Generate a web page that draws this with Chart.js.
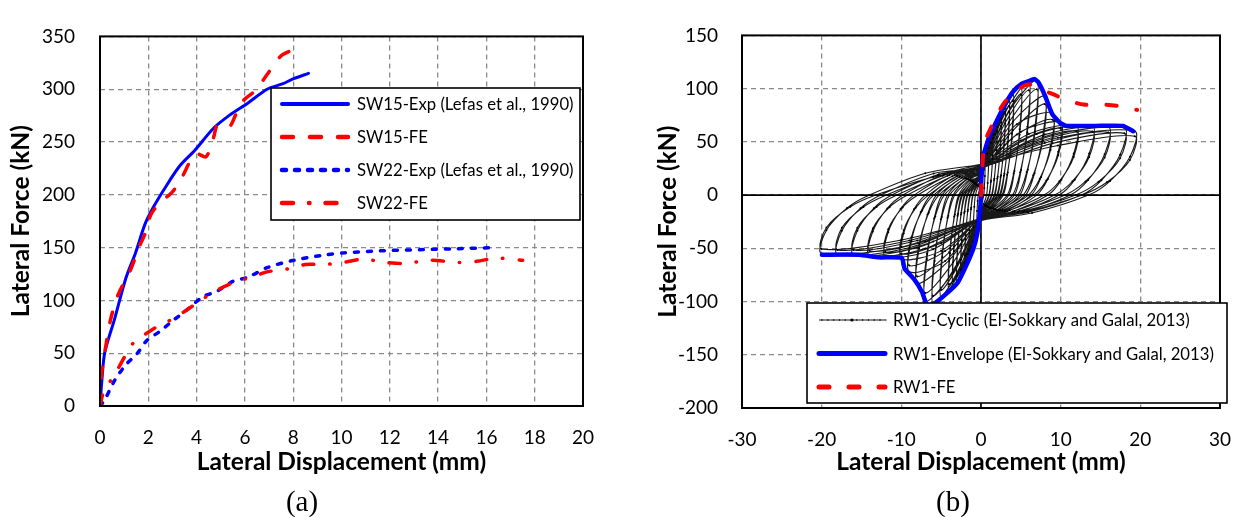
<!DOCTYPE html>
<html><head><meta charset="utf-8">
<script src="https://cdn.jsdelivr.net/npm/chart.js@4.4.1/dist/chart.umd.min.js"></script>
<style>
html,body{margin:0;padding:0;background:#fff;}
#wrap{position:relative;width:1251px;height:517px;overflow:hidden;background:#fff;}
canvas{position:absolute;top:0;}
#c1{left:0;} #c2{left:620px;}
.cap{position:absolute;font-family:'Liberation Serif','DejaVu Serif',serif;font-size:29px;color:#000;transform:translate(-50%,-50%);white-space:nowrap;line-height:1;}
</style></head><body>
<div id="wrap">
<canvas id="c1" width="620" height="517"></canvas>
<canvas id="c2" width="631" height="517"></canvas>
<div class="cap" style="left:302px;top:501px">(a)</div>
<div class="cap" style="left:953px;top:501px">(b)</div>
</div>
<script>
// ---------- (a) data: [displacement mm, force kN] ----------
const sw15Exp = [[0,0],[0.08,25],[0.2,51],[0.6,82],[1.07,121],[1.47,145],[1.86,172],[2.18,187],[2.65,205],[3.29,227],[3.92,242],[4.7,263],[5.34,275],[6.13,287],[6.92,300],[7.55,305],[8.02,310],[8.63,315]];
const sw15Fe = [[0,0],[0.05,27],[0.2,51],[0.44,82],[0.76,106],[1.23,127],[1.63,151],[1.86,163],[2.1,181],[2.5,193],[2.97,202],[3.36,215],[3.76,233],[4.0,239],[4.39,236],[4.7,254],[4.87,266],[5.34,264],[5.66,278],[5.97,290],[6.45,299],[6.92,314],[7.47,331],[7.95,337]];
const sw22Exp = [[0,0],[0.2,6],[0.6,24],[1.07,39],[1.55,50],[1.94,62],[2.5,71],[2.97,80],[3.6,91],[4.23,103],[4.87,109],[5.5,118],[6.13,122],[6.92,131],[8.02,138],[9.29,143],[10.1,145],[11.66,147],[13.24,148],[14.82,149],[16.32,150]];
const sw22Fe = [[0,0],[0.13,12],[0.44,24],[0.76,36],[1.39,60],[1.94,69],[2.5,77],[2.97,82],[3.6,91],[4.23,101],[4.87,110],[5.66,118],[6.29,122],[6.92,127],[8.1,131],[8.5,134],[9.29,134],[10.1,136],[10.9,139],[11.8,136],[12.6,135],[13.7,138],[14.8,136],[15.6,137],[16.4,140],[17.5,138]];
const leftLabels = ['SW15-Exp (Lefas et al., 1990)','SW15-FE','SW22-Exp (Lefas et al., 1990)','SW22-FE'];
const leftXTicks = [0,2,4,6,8,10,12,14,16,18,20];
const leftYTicks = [0,50,100,150,200,250,300,350];

// ---------- (b) data ----------
const rw1Cyclic = [
[0,3],[0.25,20.6],[0.5,30],[0.49,18],[0.42,6.6],[0.35,0],[0.17,-5.6],[0,-8],[-0.25,-19.1],[-0.5,-25],[-0.49,-15],[-0.42,-5.5],[-0.35,0],[-0.17,5.6],
[0,8],[0.5,36.6],[1,52],[0.97,31.2],[0.84,11.4],[0.7,0],[0.33,-8.4],[0,-12],[-0.5,-36.7],[-1,-50],[-0.97,-30],[-0.84,-11],[-0.7,0],[-0.33,8.4],
[0,12],[0.75,44.5],[1.5,62],[1.46,37.2],[1.26,13.6],[1.05,0],[0.5,-9.8],[0,-14],[-0.75,-43.9],[-1.5,-60],[-1.46,-36],[-1.26,-13.2],[-1.05,0],[-0.5,9.8],
[0,12],[0.75,39],[1.5,57],[1.46,34.1],[1.23,12.4],[0.99,0],[0.45,-9.1],[0,-13],[-0.75,-38],[-1.5,-55.2],[-1.46,-33],[-1.23,-12],[-0.99,0],[-0.45,9.1],
[0,14],[1,50.4],[2,70],[1.94,42],[1.68,15.4],[1.4,0],[0.66,-10.5],[0,-15],[-1,-50.1],[-2,-69],[-1.94,-41.4],[-1.68,-15.2],[-1.4,0],[-0.66,11.2],
[0,14],[1,44.2],[2,64.4],[1.94,38.5],[1.64,14],[1.32,0],[0.6,-9.8],[0,-14],[-1,-43.7],[-2,-63.5],[-1.94,-38],[-1.64,-13.8],[-1.32,0],[-0.6,10.4],
[0,16],[1.25,56.3],[2.5,78],[2.43,46.8],[2.1,17.2],[1.75,0],[0.83,-11.2],[0,-16],[-1.25,-55.7],[-2.5,-77],[-2.43,-46.2],[-2.1,-16.9],[-1.75,0],[-0.83,11.9],
[0,15],[1.25,49.1],[2.5,71.8],[2.43,42.9],[2.05,15.6],[1.65,0],[0.75,-10.4],[0,-15],[-1.25,-48.5],[-2.5,-70.8],[-2.43,-42.4],[-2.05,-15.4],[-1.65,0],[-0.75,11],
[0,17],[1.5,61.2],[3,85],[2.91,51],[2.52,18.7],[2.1,0],[1,-11.9],[0,-17],[-1.5,-59.9],[-3,-83],[-2.91,-49.8],[-2.52,-18.3],[-2.1,0],[-1,12.6],
[0,16],[1.5,53.3],[3,78.2],[2.91,46.8],[2.46,17],[1.98,0],[0.9,-11],[0,-16],[-1.5,-52.2],[-3,-76.4],[-2.91,-45.7],[-2.46,-16.6],[-1.98,0],[-0.9,11.7],
[0,18],[1.75,65.5],[3.5,91],[3.4,54.6],[2.94,20],[2.45,0],[1.16,-12.6],[0,-18],[-1.75,-63.5],[-3.5,-88],[-3.4,-52.8],[-2.94,-19.4],[-2.45,0],[-1.16,13.3],
[0,17],[1.75,57],[3.5,83.7],[3.4,50],[2.87,18.2],[2.31,0],[1.05,-11.7],[0,-17],[-1.75,-55.4],[-3.5,-81],[-3.4,-48.4],[-2.87,-17.6],[-2.31,0],[-1.05,12.4],
[0,19],[2,69],[4,96],[3.88,57.6],[3.36,21.1],[2.8,0],[1.32,-12.6],[0,-18],[-2,-65.5],[-4,-91],[-3.88,-54.6],[-3.36,-20],[-2.8,0],[-1.32,14],
[0,18],[2,60.2],[4,88.3],[3.88,52.8],[3.28,19.2],[2.64,0],[1.2,-11.7],[0,-17],[-2,-57],[-4,-83.7],[-3.88,-50],[-3.28,-18.2],[-2.64,0],[-1.2,13],
[0,20],[2.5,74],[5,103],[4.85,61.8],[4.2,22.7],[3.5,0],[1.65,-13.3],[0,-19],[-2.5,-69.7],[-5,-97],[-4.85,-58.2],[-4.2,-21.3],[-3.5,0],[-1.65,15.4],
[0,20],[2.5,64.9],[5,94.8],[4.85,56.7],[4.1,20.6],[3.3,0],[1.5,-12.4],[0,-18],[-2.5,-60.7],[-5,-89.2],[-4.85,-53.4],[-4.1,-19.4],[-3.3,0],[-1.5,14.3],
[0,22],[3,77.3],[6,107],[5.82,64.2],[5.04,23.5],[4.2,0],[1.98,-14],[0,-20],[-3,-74],[-6,-103],[-5.82,-61.8],[-5.04,-22.7],[-4.2,0],[-1.98,16.1],
[0,21],[3,67.4],[6,98.4],[5.82,58.9],[4.92,21.4],[3.96,0],[1.8,-13],[0,-19],[-3,-64.5],[-6,-94.8],[-5.82,-56.7],[-4.92,-20.6],[-3.96,0],[-1.8,15],
[0,23],[3.5,78.3],[7,108],[6.79,64.8],[5.88,23.8],[4.9,0],[2.31,-14.7],[0,-21],[-3.5,-72.4],[-7,-100],[-6.79,-60],[-5.88,-22],[-4.9,0],[-2.31,16.8],
[0,22],[3.5,68.4],[7,99.4],[6.79,59.4],[5.74,21.6],[4.62,0],[2.1,-13.7],[0,-20],[-3.5,-63.2],[-7,-92],[-6.79,-55],[-5.74,-20],[-4.62,0],[-2.1,15.6],
[0,24],[4,68.9],[8,93],[7.76,55.8],[6.72,20.5],[5.6,0],[2.64,-14.7],[0,-21],[-4,-61.3],[-8,-83],[-7.76,-49.8],[-6.72,-18.3],[-5.6,0],[-2.64,17.5],
[0,23],[4,60.6],[8,85.6],[7.76,51.2],[6.56,18.6],[5.28,0],[2.4,-13.7],[0,-20],[-4,-53.8],[-8,-76.4],[-7.76,-45.7],[-6.56,-16.6],[-5.28,0],[-2.4,16.3],
[0,25],[4.5,66.6],[9,77],[8.73,46.2],[7.56,16.9],[6.3,0],[2.97,-15.4],[0,-22],[-4.5,-62],[-9,-72],[-8.73,-43.2],[-7.56,-15.8],[-6.3,0],[-2.97,18.2],
[0,24],[4.5,56.8],[9,70.8],[8.73,42.4],[7.38,15.4],[5.94,0],[2.7,-14.3],[0,-21],[-4.5,-52.6],[-9,-66.2],[-8.73,-39.6],[-7.38,-14.4],[-5.94,0],[-2.7,16.9],
[0,26],[5,59.6],[10,68],[9.7,40.8],[8.4,15],[7,0],[3.3,-15.4],[0,-22],[-5,-52.4],[-10,-60],[-9.7,-36],[-8.4,-13.2],[-7,0],[-3.3,18.9],
[0,25],[5,51.3],[10,62.6],[9.7,37.4],[8.2,13.6],[6.6,0],[3,-14.3],[0,-21],[-5,-44.9],[-10,-55.2],[-9.7,-33],[-8.2,-12],[-6.6,0],[-3,17.6],
[0,27],[6,57.4],[12,65],[11.64,39],[10.08,14.3],[8.4,0],[3.96,-15.4],[0,-22],[-6,-50.8],[-12,-58],[-11.64,-34.8],[-10.08,-12.8],[-8.4,0],[-3.96,18.9],
[0,25],[6,49.4],[12,59.8],[11.64,35.8],[9.84,13],[7.92,0],[3.6,-14.3],[0,-21],[-6,-43.7],[-12,-53.4],[-11.64,-32],[-9.84,-11.6],[-7.92,0],[-3.6,17.6],
[0,27],[7,57.4],[14,65],[13.58,39],[11.76,14.3],[9.8,0],[4.62,-16.1],[0,-23],[-7,-50.2],[-14,-57],[-13.58,-34.2],[-11.76,-12.5],[-9.8,0],[-4.62,19.6],
[0,25],[7,49.4],[14,59.8],[13.58,35.8],[11.48,13],[9.24,0],[4.2,-15],[0,-22],[-7,-43.3],[-14,-52.4],[-13.58,-31.4],[-11.48,-11.4],[-9.24,0],[-4.2,18.2],
[0,28],[8,56.8],[16,64],[15.52,38.4],[13.44,14.1],[11.2,0],[5.28,-16.1],[0,-23],[-8,-49.4],[-16,-56],[-15.52,-33.6],[-13.44,-12.3],[-11.2,0],[-5.28,19.6],
[0,26],[8,49],[16,58.9],[15.52,35.2],[13.12,12.8],[10.56,0],[4.8,-15],[0,-22],[-8,-42.7],[-16,-51.5],[-15.52,-30.8],[-13.12,-11.2],[-10.56,0],[-4.8,18.2],
[0,28],[9,56],[18,63],[17.46,37.8],[15.12,13.9],[12.6,0],[5.94,-16.1],[0,-23],[-9,-49.4],[-18,-56],[-17.46,-33.6],[-15.12,-12.3],[-12.6,0],[-5.94,20.3],
[0,26],[9,48.6],[18,58],[17.46,34.6],[14.76,12.6],[11.88,0],[5.4,-15],[0,-22],[-9,-42.7],[-18,-51.5],[-17.46,-30.8],[-14.76,-11.2],[-11.88,0],[-5.4,18.9],
[0,29],[9.65,53.8],[19.3,60],[18.7,36],[16.2,13.2],[13.5,0],[6.4,-16.8],[0,-24],[-10,-48.8],[-20,-55],[-19.4,-33],[-16.8,-12.1],[-14,0],[-7,20.5],
[0,29],[9.65,46.6],[19.3,55.2],[18.7,33],[15.8,12],[12.7,0],[5.8,-15.6],[0,-23],[-10,-42.3],[-20,-50.6],[-19.4,-30.4],[-16.4,-11],[-13.2,0],[-6,17],[0,25]
];
const rw1Envelope = [[-19.97,-56],[-15.3,-56],[-12.8,-58.5],[-9.94,-59],[-9.6,-69],[-8.4,-79],[-7.4,-91],[-6.8,-103],[-6.1,-103],[-4.4,-93],[-2.9,-82],[-1.9,-67],[-0.94,-50],[-0.44,-35],[-0.2,-20],[0,-2],[0.05,16],[0.3,37],[1.04,55],[2.0,70],[3.0,85],[4.0,97],[5.0,104],[6.0,107],[6.7,109],[7.2,106],[8.0,94],[8.95,76],[9.9,68],[10.7,65],[14.4,65],[17.8,65],[19.1,60]];
const rw1Fe = [[0,0],[0.15,22],[0.45,49],[1.3,64],[2.5,82],[3.75,94],[5.0,101],[6.0,104],[7.0,101],[8.95,95],[10.9,89],[12.9,85],[15.4,85],[17.8,83],[19.6,80]];
const rightLabels = ['RW1-Cyclic (El-Sokkary and Galal, 2013)','RW1-Envelope (El-Sokkary and Galal, 2013)','RW1-FE'];
const rightXTicks = [-30,-20,-10,0,10,20,30];
const rightYTicks = [-200,-150,-100,-50,0,50,100,150];

const axisTitle = {x:'Lateral Displacement (mm)', y:'Lateral Force (kN)'};

// ---------- plugins ----------
const framePlugin = {
  id:'frame',
  afterDatasetsDraw(chart){
    const {ctx, chartArea:a} = chart;
    ctx.save(); ctx.lineWidth = 2; ctx.strokeStyle = '#000';
    ctx.strokeRect(a.left, a.top, a.right-a.left, a.bottom-a.top);
    ctx.restore();
  }
};
const zeroPlugin = {
  id:'zeroAxes',
  beforeDatasetsDraw(chart){
    const {ctx, chartArea:a, scales} = chart;
    const x0 = scales.x.getPixelForValue(0), y0 = scales.y.getPixelForValue(0);
    ctx.save(); ctx.lineWidth = 1.6; ctx.strokeStyle = '#000';
    ctx.beginPath(); ctx.moveTo(x0, a.top); ctx.lineTo(x0, a.bottom);
    ctx.moveTo(a.left, y0); ctx.lineTo(a.right, y0); ctx.stroke();
    ctx.restore();
  }
};
const boxLegend = {
  id:'boxLegend',
  afterDraw(chart, args, o){
    const ctx = chart.ctx;
    ctx.save();
    ctx.fillStyle = '#fff'; ctx.fillRect(o.x, o.y, o.w, o.h);
    ctx.lineWidth = 1.6; ctx.strokeStyle = '#000'; ctx.strokeRect(o.x, o.y, o.w, o.h);
    ctx.font = o.font; ctx.textBaseline = 'middle'; ctx.fillStyle = '#000';
    chart.data.datasets.forEach((ds, i) => {
      const cy = o.row0 + i*o.rowH;
      ctx.save();
      ctx.strokeStyle = ds.borderColor; ctx.lineWidth = ds.legendWidth || ds.borderWidth;
      ctx.setLineDash(ds.borderDash || []); ctx.lineCap = ds.borderCapStyle || 'butt';
      ctx.beginPath(); ctx.moveTo(o.sx0, cy); ctx.lineTo(o.sx1, cy); ctx.stroke();
      if (ds.legendDots) {
        ctx.fillStyle = '#000';
        for (let k = 0; k < 12; k++) { ctx.beginPath(); ctx.arc(o.sx0 + 3 + k*5.8, cy, 0.8, 0, Math.PI*2); ctx.fill(); }
        ctx.beginPath(); ctx.arc((o.sx0+o.sx1)/2, cy, 1.6, 0, Math.PI*2); ctx.fill();
      }
      ctx.restore();
      ctx.fillText(ds.label, o.tx, cy + 1);
    });
    ctx.restore();
  }
};

function scaleOpts(ticks, title, fit, tickPad, titlePad, isX){
  return {
    type:'linear', min:ticks[0], max:ticks[ticks.length-1],
    afterBuildTicks(s){ s.ticks = ticks.map(v => ({value:v})); },
    afterFit(s){ if (isX) s.height = fit; else s.width = fit; },
    grid:{color:'#8a8a8a', lineWidth:1.3, drawTicks:false},
    border:{display:false, dash:[5,4]},
    ticks:{color:'#000', font:{family:'Lato', size:19}, padding:tickPad, autoSkip:false, maxRotation:0},
    title:{display:true, text:title, color:'#000', font:{family:'Lato', size:24.5, weight:'bold'}, padding:titlePad}
  };
}

function build(){
  Chart.defaults.font.family = 'Lato';
  new Chart(document.getElementById('c1'), {
    type:'line',
    data:{datasets:[
      {label:leftLabels[0], data:sw15Exp, borderColor:'#0000ff', borderWidth:3, pointRadius:0, tension:0.3, order:4, borderCapStyle:'round', legendWidth:4},
      {label:leftLabels[1], data:sw15Fe, borderColor:'#ff0000', borderWidth:3.5, borderDash:[11,17], borderCapStyle:'round', pointRadius:0, tension:0.3, order:2, legendWidth:4.5},
      {label:leftLabels[2], data:sw22Exp, borderColor:'#0000ff', borderWidth:3.5, borderDash:[4,9], borderCapStyle:'round', pointRadius:0, tension:0.3, order:3, legendWidth:4.5},
      {label:leftLabels[3], data:sw22Fe, borderColor:'#ff0000', borderWidth:3.5, borderDash:[11,16,0.5,16], borderCapStyle:'round', pointRadius:0, tension:0.3, order:1, legendWidth:4.5}
    ]},
    options:{
      responsive:false, animation:false, devicePixelRatio:1,
      layout:{padding:{left:0, top:21, right:37, bottom:0}},
      scales:{
        x:scaleOpts(leftXTicks, axisTitle.x, 111, 20, {top:0, bottom:40}, true),
        y:scaleOpts(leftYTicks, axisTitle.y, 100, 25, {top:6, bottom:0}, false)
      },
      plugins:{legend:{display:false}, tooltip:{enabled:false},
        boxLegend:{x:271, y:88, w:309, h:132, row0:104, rowH:33, sx0:282, sx1:348, tx:357, font:'16.7px Lato'}}
    },
    plugins:[framePlugin, boxLegend]
  });

  new Chart(document.getElementById('c2'), {
    type:'line',
    data:{datasets:[
      {label:rightLabels[0], data:rw1Cyclic, borderColor:'rgba(0,0,0,0.9)', borderWidth:1.1, pointRadius:1.0, pointBorderWidth:0, pointBackgroundColor:'#000', tension:0.3, order:3, legendDots:true, legendWidth:1},
      {label:rightLabels[1], data:rw1Envelope, borderColor:'#0000ff', borderWidth:4.5, pointRadius:0, tension:0.15, order:2, borderCapStyle:'round', borderJoinStyle:'round', legendWidth:5},
      {label:rightLabels[2], data:rw1Fe, borderColor:'#ff0000', borderWidth:4, borderDash:[10,20], borderCapStyle:'round', pointRadius:0, tension:0.3, order:1, legendWidth:5}
    ]},
    options:{
      responsive:false, animation:false, devicePixelRatio:1,
      layout:{padding:{left:0, top:17, right:22, bottom:0}},
      scales:{
        x:scaleOpts(rightXTicks, axisTitle.x, 109, 20, {top:0, bottom:40}, true),
        y:scaleOpts(rightYTicks, axisTitle.y, 122, 24, {top:33, bottom:0}, false)
      },
      plugins:{legend:{display:false}, tooltip:{enabled:false},
        boxLegend:{x:187, y:303, w:420, h:100, row0:320, rowH:33.5, sx0:199, sx1:265, tx:273, font:'16.7px Lato'}}
    },
    plugins:[zeroPlugin, framePlugin, boxLegend]
  });
}

Promise.all([
  document.fonts.load('19px Lato'), document.fonts.load('bold 24.5px Lato'), document.fonts.load('29px "Liberation Serif"')
]).catch(()=>{}).then(build);
</script>
</body></html>
